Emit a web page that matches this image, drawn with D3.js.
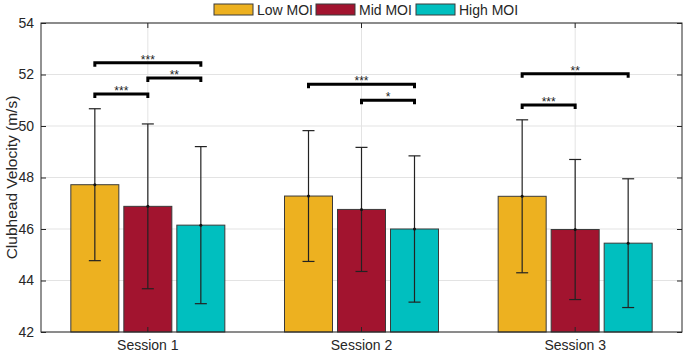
<!DOCTYPE html>
<html>
<head>
<meta charset="utf-8">
<script src="https://cdn.jsdelivr.net/npm/d3@7"></script>
<style>
  body { margin: 0; background: #fff; }
  text { font-family: "Liberation Sans", Arial, sans-serif; }
</style>
</head>
<body>
<svg id="chart" width="685" height="353"></svg>
<script>
// data
let sessions = ["Session 1", "Session 2", "Session 3"];
let groups = ["Low MOI", "Mid MOI", "High MOI"];
let colors = ["#EDB120", "#A2142F", "#00BFBF"];
let means = [
  [47.72, 46.88, 46.15],
  [47.28, 46.76, 46.00],
  [47.27, 45.98, 45.45]
];
let sds = [
  [2.95, 3.20, 3.05],
  [2.54, 2.41, 2.84],
  [2.97, 2.72, 2.50]
];
// significance brackets: session index, from group, to group, height, label
let sig = [
  [0, 0, 1, 51.24, "***"],
  [0, 1, 2, 51.86, "**"],
  [0, 0, 2, 52.46, "***"],
  [1, 1, 2, 51.00, "*"],
  [1, 0, 2, 51.62, "***"],
  [2, 0, 1, 50.82, "***"],
  [2, 0, 2, 52.03, "**"]
];
let yTicks = [42, 44, 46, 48, 50, 52, 54];

let LEFT = 41, RIGHT = 682, TOP = 23, BOTTOM = 332;
let svg = d3.select('#chart');

let xScale = d3.scaleBand().domain(sessions).range([LEFT, RIGHT]);
let yScale = d3.scaleLinear().domain([42, 54]).range([BOTTOM, TOP]);
let offset = d3.scalePoint().domain(groups).range([-53, 53]);
let BAR_W = 48;

// grid
svg.append('g')
  .selectAll('line.hg')
  .data(yTicks)
  .join('line')
  .attr('x1', LEFT).attr('x2', RIGHT)
  .attr('y1', d => yScale(d)).attr('y2', d => yScale(d))
  .attr('stroke', '#e3e3e3').attr('stroke-width', 1);
svg.append('g')
  .selectAll('line.vg')
  .data(sessions)
  .join('line')
  .attr('x1', d => xScale(d) + xScale.bandwidth() / 2)
  .attr('x2', d => xScale(d) + xScale.bandwidth() / 2)
  .attr('y1', TOP).attr('y2', BOTTOM)
  .attr('stroke', '#e3e3e3').attr('stroke-width', 1);

// bars
let flat = [];
sessions.forEach((s, i) => groups.forEach((g, j) => {
  flat.push({s: s, g: g, j: j, m: means[i][j], sd: sds[i][j]});
}));
let cx = d => xScale(d.s) + xScale.bandwidth() / 2 + offset(d.g);

svg.append('g')
  .selectAll('rect')
  .data(flat)
  .join('rect')
  .attr('x', d => cx(d) - BAR_W / 2)
  .attr('width', BAR_W)
  .attr('y', d => yScale(d.m))
  .attr('height', d => BOTTOM - yScale(d.m))
  .attr('fill', d => colors[d.j])
  .attr('stroke', '#3a3a3a').attr('stroke-width', 1);

// error bars
let eb = svg.append('g').attr('stroke', '#222').attr('stroke-width', 1.2);
eb.selectAll('line.v')
  .data(flat).join('line')
  .attr('x1', cx).attr('x2', cx)
  .attr('y1', d => yScale(d.m + d.sd)).attr('y2', d => yScale(d.m - d.sd));
eb.selectAll('line.t')
  .data(flat).join('line')
  .attr('x1', d => cx(d) - 6).attr('x2', d => cx(d) + 6)
  .attr('y1', d => yScale(d.m + d.sd)).attr('y2', d => yScale(d.m + d.sd));
eb.selectAll('line.b')
  .data(flat).join('line')
  .attr('x1', d => cx(d) - 6).attr('x2', d => cx(d) + 6)
  .attr('y1', d => yScale(d.m - d.sd)).attr('y2', d => yScale(d.m - d.sd));
svg.append('g').selectAll('circle')
  .data(flat).join('circle')
  .attr('cx', cx).attr('cy', d => yScale(d.m))
  .attr('r', 1.5).attr('fill', '#111');

// axes box
let xAx = d3.axisBottom(xScale).tickSize(-5).tickPadding(8);
svg.append('g').attr('transform', `translate(0,${BOTTOM})`).call(xAx)
  .call(g => g.select('.domain').remove());
svg.append('g').attr('transform', `translate(0,${TOP})`)
  .call(d3.axisTop(xScale).tickSize(-5).tickFormat(''))
  .call(g => g.select('.domain').remove());
let yAx = d3.axisLeft(yScale).tickValues(yTicks).tickSize(-5).tickPadding(7);
svg.append('g').attr('transform', `translate(${LEFT},0)`).call(yAx)
  .call(g => g.select('.domain').remove());
svg.append('g').attr('transform', `translate(${RIGHT},0)`)
  .call(d3.axisRight(yScale).tickValues(yTicks).tickSize(-5).tickFormat(''))
  .call(g => g.select('.domain').remove());
svg.selectAll('.tick line').attr('stroke', '#262626');
svg.selectAll('.tick text').attr('font-size', 14).attr('fill', '#262626')
  .style('font-family', '"Liberation Sans", Arial, sans-serif');
svg.append('rect')
  .attr('x', LEFT).attr('y', TOP)
  .attr('width', RIGHT - LEFT).attr('height', BOTTOM - TOP)
  .attr('fill', 'none').attr('stroke', '#262626').attr('stroke-width', 1);

// y label
svg.append('text')
  .attr('transform', `translate(12,${(TOP + BOTTOM) / 2}) rotate(-90)`)
  .attr('text-anchor', 'middle').attr('dy', '0.35em')
  .attr('font-size', 15.5).attr('fill', '#262626')
  .text('Clubhead Velocity (m/s)');

// significance brackets
let bx = (si, gi) => xScale(sessions[si]) + xScale.bandwidth() / 2 + offset(groups[gi]);
let br = svg.append('g');
sig.forEach(d => {
  let x1 = bx(d[0], d[1]), x2 = bx(d[0], d[2]), y = yScale(d[3]);
  br.append('path')
    .attr('d', `M${x1},${y + 4}V${y}H${x2}V${y + 4}`)
    .attr('fill', 'none').attr('stroke', '#000').attr('stroke-width', 3);
  br.append('text')
    .attr('x', (x1 + x2) / 2).attr('y', y + 1)
    .attr('text-anchor', 'middle')
    .attr('font-size', 12).attr('fill', '#222')
    .text(d[4]);
});

// legend
let legX = [214, 316, 416];
let leg = svg.append('g');
groups.forEach((g, j) => {
  leg.append('rect')
    .attr('x', legX[j]).attr('y', 4)
    .attr('width', 39).attr('height', 11)
    .attr('fill', colors[j]).attr('stroke', '#3a3a3a').attr('stroke-width', 1);
  leg.append('text')
    .attr('x', legX[j] + 43).attr('y', 10).attr('dy', '0.35em')
    .attr('font-size', 14).attr('fill', '#262626')
    .text(g);
});
</script>
</body>
</html>
